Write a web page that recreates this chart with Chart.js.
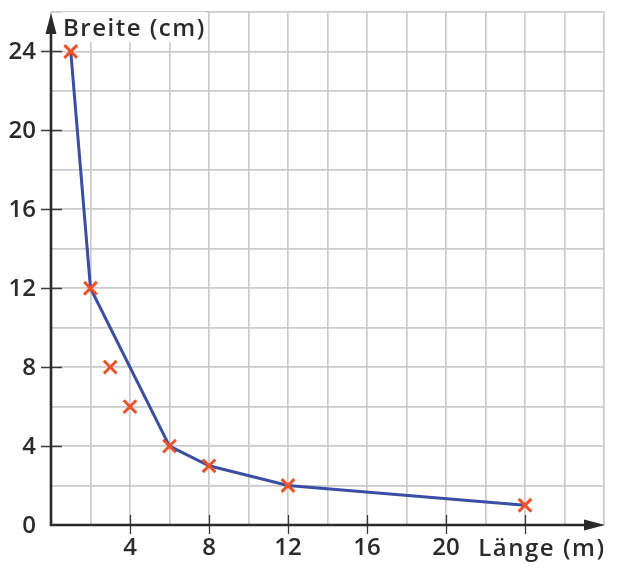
<!DOCTYPE html>
<html>
<head>
<meta charset="utf-8">
<script src="https://cdn.jsdelivr.net/npm/chart.js@4"></script>
<style>
  html, body { margin: 0; padding: 0; background: #ffffff; }
  #c { display: block; }
</style>
</head>
<body>
<canvas id="c" width="620" height="576"></canvas>
<script>
// ---- data ----
const lineX = [1, 2, 6, 8, 12, 24];
const lineY = [24, 12, 4, 3, 2, 1];
const extraX = [3, 4];
const extraY = [8, 6];
const xTickLabels = [4, 8, 12, 16, 20];
const yTickLabels = [0, 4, 8, 12, 16, 20, 24];
const xTickMarks = [4, 8, 12, 16, 20, 24];
const yTickMarks = [4, 8, 12, 16, 20, 24];
const xTitle = 'Länge (m)';
const yTitle = 'Breite (cm)';

const FONT = '"Open Sans", "Noto Sans", sans-serif';
const TEXT = '#2b2b2b';
const AXIS = '#2a2a2a';

const axesPlugin = {
  id: 'axesPlugin',
  afterDatasetsDraw(chart) {
    const ctx = chart.ctx;
    const xs = chart.scales.x, ys = chart.scales.y;
    const x0 = xs.getPixelForValue(0);
    const y0 = ys.getPixelForValue(0);
    const xEnd = xs.getPixelForValue(28);
    const yEnd = ys.getPixelForValue(26);
    ctx.save();
    // tick marks
    ctx.strokeStyle = '#3a3a3a';
    ctx.lineWidth = 1.3;
    ctx.beginPath();
    yTickMarks.forEach(v => {
      const py = Math.round(ys.getPixelForValue(v)) + 0.5;
      ctx.moveTo(x0 - 10, py); ctx.lineTo(x0 + 11, py);
    });
    xTickMarks.forEach(v => {
      const px = Math.round(xs.getPixelForValue(v)) + 0.5;
      ctx.moveTo(px, y0 - 10); ctx.lineTo(px, y0 + 9);
    });
    ctx.stroke();

    // tick labels
    ctx.font = '600 24px ' + FONT;
    ctx.fillStyle = TEXT;
    ctx.textAlign = 'right';
    ctx.textBaseline = 'middle';
    yTickLabels.forEach(v => {
      ctx.fillText(String(v), 36, ys.getPixelForValue(v) + 1);
    });
    ctx.textAlign = 'center';
    xTickLabels.forEach(v => {
      ctx.fillText(String(v), xs.getPixelForValue(v), 548);
    });

    // titles with white background
    if ('letterSpacing' in ctx) ctx.letterSpacing = '1.5px';
    ctx.textBaseline = 'alphabetic';
    ctx.textAlign = 'left';
    const wy = ctx.measureText(yTitle).width;
    ctx.fillStyle = '#ffffff';
    ctx.fillRect(62, 12, wy + 1, 30);
    ctx.fillStyle = TEXT;
    ctx.fillText(yTitle, 63, 36);

    ctx.textAlign = 'right';
    const wx = ctx.measureText(xTitle).width;
    ctx.fillStyle = '#ffffff';
    ctx.fillRect(604 - wx, 534, wx + 2, 30);
    ctx.fillStyle = TEXT;
    ctx.fillText(xTitle, 605.5, 556);
    if ('letterSpacing' in ctx) ctx.letterSpacing = '0px';

    // axes lines
    ctx.strokeStyle = AXIS;
    ctx.lineWidth = 2.6;
    ctx.beginPath();
    ctx.moveTo(x0, y0 + 1.3); ctx.lineTo(x0, yEnd + 14);
    ctx.moveTo(x0 - 1.3, y0); ctx.lineTo(xEnd - 12, y0);
    ctx.stroke();
    // arrows
    ctx.fillStyle = AXIS;
    ctx.beginPath();
    ctx.moveTo(x0, yEnd + 1);
    ctx.lineTo(x0 - 5.5, yEnd + 22);
    ctx.lineTo(x0 + 5.5, yEnd + 22);
    ctx.closePath();
    ctx.fill();
    ctx.beginPath();
    ctx.moveTo(xEnd + 1, y0);
    ctx.lineTo(xEnd - 20, y0 - 5.5);
    ctx.lineTo(xEnd - 20, y0 + 5.5);
    ctx.closePath();
    ctx.fill();
    ctx.restore();
  }
};

new Chart(document.getElementById('c'), {
  type: 'scatter',
  data: {
    datasets: [
      {
        data: lineX.map((x, i) => ({ x: x, y: lineY[i] })),
        showLine: true,
        borderColor: '#3b4ea3',
        borderWidth: 3,
        tension: 0,
        pointStyle: 'crossRot',
        pointRadius: 9,
        pointBorderWidth: 3,
        pointBorderColor: '#ec5228',
        pointBackgroundColor: '#ec5228',
        clip: false
      },
      {
        data: extraX.map((x, i) => ({ x: x, y: extraY[i] })),
        showLine: false,
        pointStyle: 'crossRot',
        pointRadius: 9,
        pointBorderWidth: 3,
        pointBorderColor: '#ec5228',
        pointBackgroundColor: '#ec5228',
        clip: false
      }
    ]
  },
  options: {
    responsive: false,
    animation: false,
    layout: { padding: { top: 10, right: 16, left: 0, bottom: 0 } },
    plugins: { legend: { display: false }, tooltip: { enabled: false } },
    scales: {
      x: {
        type: 'linear', min: 0, max: 28,
        border: { display: false },
        grid: { color: '#cbcbcb', lineWidth: 1.7, drawTicks: false },
        ticks: { stepSize: 2, autoSkip: false, display: false },
        afterFit: s => { s.height = 51; }
      },
      y: {
        type: 'linear', min: 0, max: 26,
        border: { display: false },
        grid: { color: '#cbcbcb', lineWidth: 1.7, drawTicks: false },
        ticks: { stepSize: 2, autoSkip: false, display: false },
        afterFit: s => { s.width = 51; }
      }
    }
  },
  plugins: [axesPlugin]
});
</script>
</body>
</html>
